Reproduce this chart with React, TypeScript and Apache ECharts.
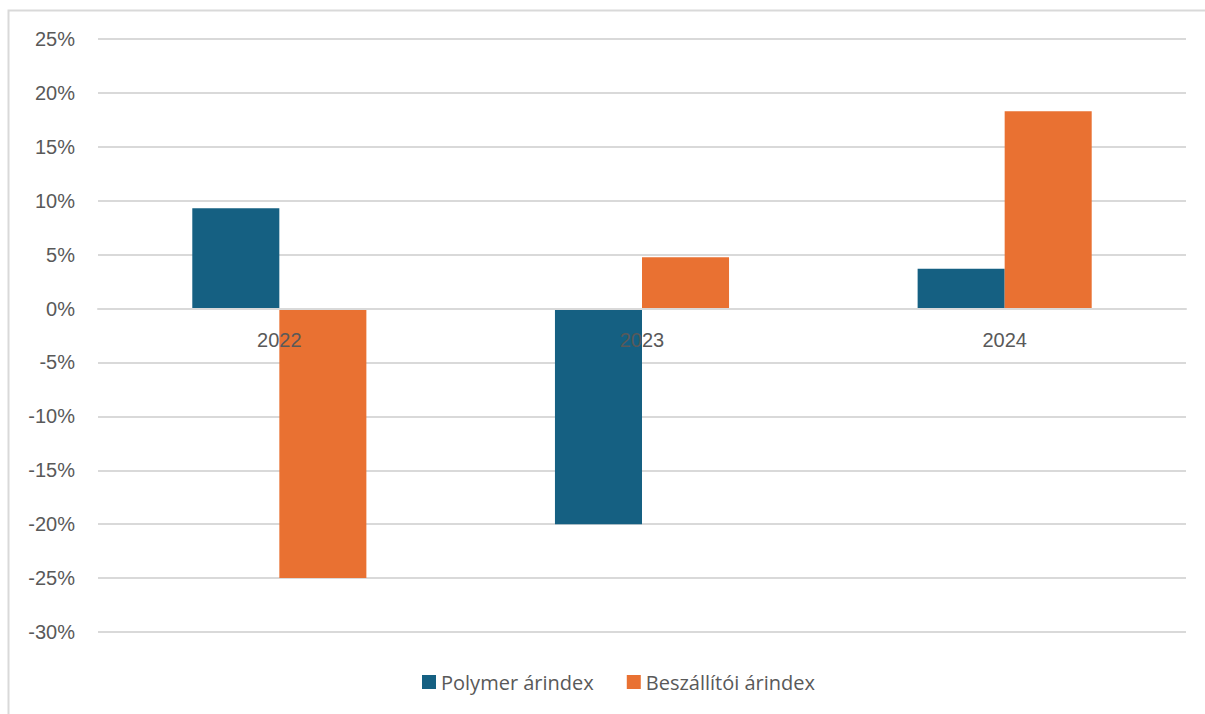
import React, { useEffect, useRef } from "react";
import * as echarts from "echarts";

const categories = ["2022", "2023", "2024"];
const polymer = [9.3, -20.0, 3.7];
const beszallitoi = [-25.0, 4.75, 18.3];
const seriesNames = ["Polymer árindex", "Beszállítói árindex"];

export default function App() {
  const ref = useRef<HTMLDivElement>(null);
  useEffect(() => {
    document.body.style.margin = "0";
    const chart = echarts.init(ref.current!, null, { renderer: "svg" });
    chart.setOption({
      animation: false,
      backgroundColor: "#ffffff",
      graphic: [
        {
          type: "rect",
          shape: { x: 8.5, y: 10.5, width: 1205, height: 720 },
          style: { fill: "none", stroke: "#d9d9d9", lineWidth: 2 },
          silent: true,
          z: -1,
        },
      ],
      grid: { left: 98, right: 19, top: 39, bottom: 82, containLabel: false },
      legend: {
        bottom: 17,
        left: 417,
        itemWidth: 14,
        itemHeight: 14,
        itemGap: 33,
        icon: "rect",
        textStyle: { color: "#595959", fontSize: 20, fontFamily: "Open Sans" },
        data: seriesNames,
      },
      xAxis: {
        type: "category",
        data: categories,
        offset: -323.5,
        axisLine: { show: true, onZero: false, lineStyle: { color: "#d9d9d9", width: 2 } },
        axisTick: { show: false },
        axisLabel: { color: "#595959", fontSize: 20, fontFamily: "Liberation Sans", margin: 21 },
        z: 10,
      },
      yAxis: {
        type: "value",
        min: -30,
        max: 25,
        interval: 5,
        axisLine: { show: false },
        axisTick: { show: false },
        splitLine: { lineStyle: { color: "#d9d9d9", width: 2 } },
        axisLabel: {
          color: "#595959",
          fontSize: 20,
          fontFamily: "Liberation Sans",
          margin: 23,
          formatter: (v: number) => v + "%",
        },
      },
      series: [
        {
          name: seriesNames[0],
          type: "bar",
          data: polymer,
          barGap: "0%",
          barCategoryGap: "52%",
          itemStyle: { color: "#156082" },
          z: 3,
        },
        {
          name: seriesNames[1],
          type: "bar",
          data: beszallitoi,
          barGap: "0%",
          barCategoryGap: "52%",
          itemStyle: { color: "#E97132" },
          z: 3,
        },
      ],
    });
    return () => chart.dispose();
  }, []);
  return <div ref={ref} style={{ width: 1205, height: 714, position: "absolute", left: 0, top: 0 }} />;
}
